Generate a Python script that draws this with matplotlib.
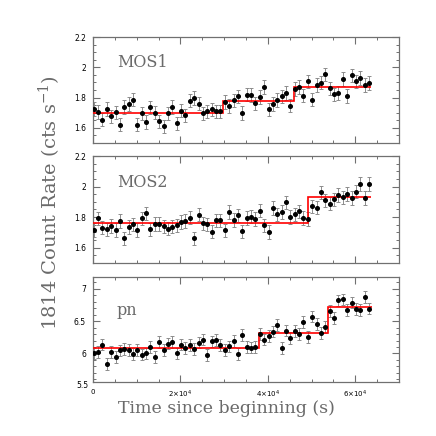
import numpy as np
import matplotlib
matplotlib.use("Agg")
import matplotlib.pyplot as plt
from matplotlib.ticker import MultipleLocator, FixedLocator

# ---------------- data ----------------
bin_size = 1000.0
n_bins = 64
time = np.arange(n_bins) * bin_size + 150.0

mos1_rate = [1.725, 1.705, 1.653, 1.725, 1.675, 1.702, 1.622, 1.738, 1.758, 1.787,
             1.622, 1.695, 1.638, 1.736, 1.700, 1.642, 1.611, 1.695, 1.738, 1.629,
             1.713, 1.682, 1.780, 1.798, 1.760, 1.695, 1.709, 1.722, 1.709, 1.709,
             1.771, 1.745, 1.782, 1.809, 1.698, 1.820, 1.818, 1.762, 1.804, 1.869,
             1.722, 1.758, 1.784, 1.809, 1.831, 1.747, 1.856, 1.869, 1.813, 1.907,
             1.787, 1.882, 1.898, 1.953, 1.860, 1.822, 1.831, 1.922, 1.811, 1.947,
             1.907, 1.929, 1.884, 1.896]
mos1_err = 0.044

mos2_rate = [1.716, 1.792, 1.731, 1.720, 1.742, 1.716, 1.775, 1.661, 1.735, 1.753,
             1.716, 1.792, 1.825, 1.720, 1.755, 1.755, 1.740, 1.725, 1.737, 1.746,
             1.768, 1.775, 1.796, 1.661, 1.816, 1.760, 1.753, 1.705, 1.779, 1.779,
             1.714, 1.833, 1.782, 1.812, 1.707, 1.794, 1.803, 1.788, 1.842, 1.746,
             1.703, 1.860, 1.818, 1.833, 1.897, 1.801, 1.818, 1.838, 1.794, 1.788,
             1.871, 1.862, 1.962, 1.910, 1.888, 1.917, 1.945, 1.930, 1.951, 1.925,
             1.966, 2.018, 1.925, 2.018]
mos2_err = 0.044

pn_rate = [6.000, 6.025, 6.138, 5.840, 6.025, 5.943, 6.046, 6.071, 6.051, 5.995,
           6.051, 5.984, 6.000, 6.102, 5.943, 6.179, 6.056, 6.154, 6.174, 6.000,
           6.138, 6.087, 6.128, 6.071, 6.169, 6.215, 5.979, 6.185, 6.210, 6.128,
           6.051, 6.108, 6.190, 5.995, 6.287, 6.102, 6.092, 6.102, 6.297, 6.215,
           6.266, 6.338, 6.435, 6.087, 6.354, 6.241, 6.348, 6.297, 6.487, 6.256,
           6.569, 6.451, 6.317, 6.410, 6.656, 6.548, 6.820, 6.835, 6.666, 6.785,
           6.687, 6.672, 6.871, 6.692]
pn_err = 0.09

# Bayesian-block style step models: block edges and levels
mos1_edges = [0, 29800, 45900, 63700]
mos1_levels = [1.698, 1.780, 1.871]
mos2_edges = [0, 49200, 63500]
mos2_levels = [1.762, 1.930]
pn_edges = [0, 37900, 53700, 63900]
pn_levels = [6.077, 6.323, 6.723]

names = ["MOS1", "MOS2", "pn"]
ylims = [(1.5, 2.2), (1.5, 2.2), (5.56, 7.18)]
ymajor = [[1.6, 1.8, 2.0, 2.2], [1.6, 1.8, 2.0, 2.2], [6.0, 6.5, 7.0]]
ymajor_labels = [["1.6", "1.8", "2", "2.2"], ["1.6", "1.8", "2", "2.2"], ["6", "6.5", "7"]]
yminor = [0.05, 0.05, 0.1]
xtick_vals = [0, 20000, 40000, 60000]
xtick_labels = ["0", r"2$\times$10$^{4}$", r"4$\times$10$^{4}$", r"6$\times$10$^{4}$"]

# ---------------- figure ----------------
W = 436
fig = plt.figure(figsize=(W / 100, W / 100), dpi=100)

frame_col = "#707070"
err_col = "#8c8c8c"
text_col = "#6a6a6a"
serif = "DejaVu Serif"

panel_px = [(37, 143), (156, 263), (277, 382)]
left_px, right_px = 93, 399

rates = [mos1_rate, mos2_rate, pn_rate]
errs = [mos1_err, mos2_err, pn_err]
edges = [mos1_edges, mos2_edges, pn_edges]
levels = [mos1_levels, mos2_levels, pn_levels]
label_y = [0.72, 0.71, 0.64]

for i in range(3):
    top, bot = panel_px[i]
    ax = fig.add_axes([left_px / W, 1 - bot / W, (right_px - left_px) / W, (bot - top) / W])
    ax.set_xlim(0, 70000)
    ax.set_ylim(*ylims[i])

    e = np.array(edges[i])
    lv = np.array(levels[i])
    ax.stairs(lv, e, color="red", lw=1.2, baseline=None, zorder=3)

    ax.errorbar(time, rates[i], yerr=errs[i], fmt="none", ecolor=err_col,
                elinewidth=0.7, capsize=1.4, capthick=0.7, zorder=2)
    ax.plot(time, rates[i], "o", color="black", ms=2.6, mec="black", zorder=4)

    for sp in ax.spines.values():
        sp.set_color(frame_col)
        sp.set_linewidth(0.9)

    ax.xaxis.set_major_locator(FixedLocator(xtick_vals))
    ax.xaxis.set_minor_locator(MultipleLocator(5000))
    ax.yaxis.set_major_locator(FixedLocator(ymajor[i]))
    ax.yaxis.set_minor_locator(MultipleLocator(yminor[i]))
    ax.set_yticklabels(ymajor_labels[i])
    ax.tick_params(which="both", direction="in", top=True, right=True,
                   color=frame_col, labelsize=5.5, labelcolor="black")
    ax.tick_params(which="major", length=5, width=0.8)
    ax.tick_params(which="minor", length=2.5, width=0.7)
    ax.tick_params(axis="y", pad=5)
    ax.tick_params(axis="x", pad=5, labelsize=5)
    if i < 2:
        ax.set_xticklabels([])
    else:
        ax.set_xticklabels(xtick_labels)
        ax.text(-0.016, 5.5, "5.5", transform=ax.get_yaxis_transform(),
                ha="right", va="center", fontsize=5.5, color="black")

    ax.text(0.078, label_y[i], names[i], transform=ax.transAxes,
            fontsize=11.5, family=serif, color=text_col,
            ha="left", va="baseline")

fig.text(50 / W, 1 - 203 / W, "1814 Count Rate (cts s$^{-1}$)", rotation=90,
         ha="center", va="center", fontsize=14, family=serif,
         color=text_col, math_fontfamily="dejavuserif")
fig.text(226 / W, 1 - 408 / W, "Time since beginning (s)", ha="center", va="center",
         fontsize=12.5, family=serif, color=text_col)

fig.savefig("out.png", dpi=100)
